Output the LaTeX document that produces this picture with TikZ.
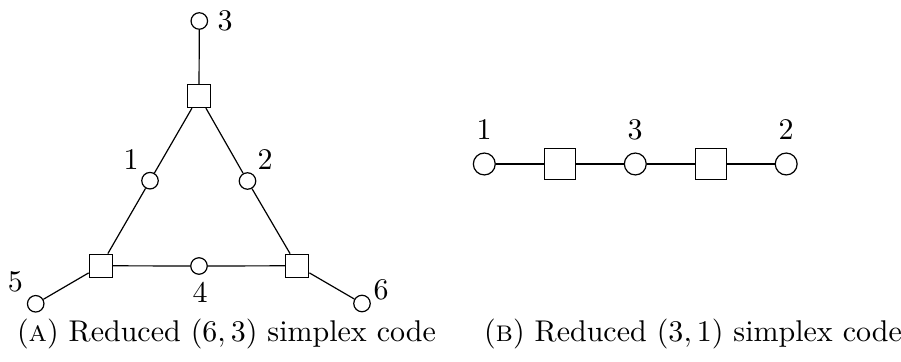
\documentclass[tikz,border=0pt]{standalone}
\begin{document}
\begin{tikzpicture}[x=0.3333pt,y=-0.3333pt,
  vs/.style={circle,draw,fill=white,inner sep=0pt,minimum size=5.5pt},
  cs/.style={rectangle,draw,fill=white,inner sep=0pt,minimum size=7.7pt},
  vb/.style={circle,draw,fill=white,inner sep=0pt,minimum size=7.3pt},
  cb/.style={rectangle,draw,fill=white,inner sep=0pt,minimum size=10.3pt},
  lab/.style={inner sep=0pt},
  captxt/.style={anchor=base,inner sep=0pt}]
\useasboundingbox (0,0) rectangle (901,362);
% (A)
\node[vs] (a3) at (199.3,21) {};
\node[cs] (ct) at (199,96) {};
\node[vs] (a1) at (150,180.7) {};
\node[vs] (a2) at (247.5,181) {};
\node[cs] (cl) at (100.8,265.8) {};
\node[cs] (cr) at (297.2,265.8) {};
\node[vs] (a4) at (199,266) {};
\node[vs] (a5) at (35.7,303.8) {};
\node[vs] (a6) at (362,303.5) {};
\draw (a3) -- (ct);
\draw (ct) -- (a1) -- (cl);
\draw (ct) -- (a2) -- (cr);
\draw (cl) -- (a4) -- (cr);
\draw (cl) -- (a5);
\draw (cr) -- (a6);
\node[lab] (l3) at (225,21) {3};
\node[lab] (l1) at (131,160) {1};
\node[lab] (l2) at (265,160) {2};
\node[lab] (l4) at (200,292) {4};
\node[lab] (l5) at (15.5,282) {5};
\node[lab] (l6) at (381,290) {6};
\node[captxt] (capa) at (226.5,342) {(\textsc{a}) Reduced $(6,3)$ simplex code};
% (B)
\node[vb] (b1) at (484.3,164) {};
\node[cb] (d1) at (560,164) {};
\node[vb] (b3) at (635.3,164) {};
\node[cb] (d2) at (711.3,164) {};
\node[vb] (b2) at (786.2,164) {};
\draw (b1) -- (d1) -- (b3) -- (d2) -- (b2);
\node[lab] (m1) at (484,130) {1};
\node[lab] (m3) at (635,130) {3};
\node[lab] (m2) at (786,130) {2};
\node[captxt] (capb) at (693,342) {(\textsc{b}) Reduced $(3,1)$ simplex code};
\end{tikzpicture}
\end{document}
